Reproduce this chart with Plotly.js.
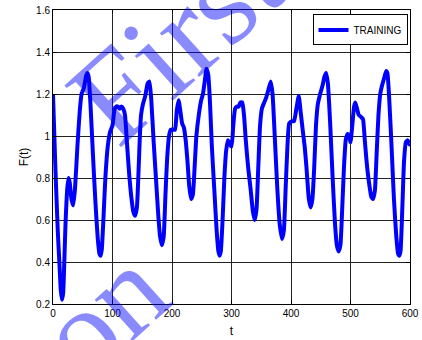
<!DOCTYPE html>
<html>
<head>
<meta charset="utf-8">
<script src="https://cdn.plot.ly/plotly-3.0.1.min.js"></script>
<style>html,body{margin:0;padding:0;background:#fff;}#chart{width:422px;height:340px;}</style>
</head>
<body>
<div id="chart"></div>
<script>
// time samples (t)
const tValues = [0,4,8,11,13,15,17,19,21,24,26,28,31,34,37,41,45,48,52,56,58,60,63,67,71,75,78,80,82,85,88,92,96,100,103,106,109,112,115,118,121,124,128,132,135,138,141,144,146,148,151,155,159,162,165,169,173,177,180,183,186,189,192,195,198,202,205,208,211,214,217,220,223,226,229,232,235,238,241,245,249,252,255,258,261,264,267,271,275,278,280,282,285,288,291,294,297,300,303,306,309,312,315,318,321,324,328,332,336,339,342,345,348,351,355,358,362,366,369,373,377,381,385,388,391,394,397,401,405,409,413,416,420,423,426,430,433,436,439,442,445,449,453,456,459,462,466,470,474,477,480,483,486,489,492,495,498,500,503,506,508,511,514,518,521,524,528,532,535,538,541,544,547,550,553,557,560,562,565,569,573,577,580,582,584,587,590,593,596,599,600];
// F(t) training values
const fValues = [1.20,0.85,0.55,0.38,0.27,0.22,0.25,0.40,0.58,0.75,0.80,0.78,0.70,0.67,0.75,0.95,1.12,1.20,1.23,1.29,1.30,1.28,1.15,0.92,0.70,0.52,0.44,0.43,0.46,0.62,0.80,0.95,1.02,1.05,1.12,1.14,1.14,1.13,1.14,1.13,1.10,0.98,0.82,0.70,0.64,0.62,0.66,0.85,1.00,1.10,1.15,1.19,1.25,1.26,1.18,0.98,0.80,0.62,0.52,0.48,0.52,0.72,0.90,1.00,1.03,1.03,1.03,1.12,1.17,1.12,1.06,1.04,0.98,0.88,0.76,0.70,0.72,0.85,1.00,1.10,1.17,1.20,1.26,1.32,1.29,1.15,0.95,0.75,0.55,0.45,0.43,0.45,0.60,0.80,0.93,0.98,0.96,0.95,1.05,1.13,1.14,1.14,1.16,1.16,1.10,0.98,0.85,0.75,0.64,0.60,0.65,0.85,1.05,1.13,1.16,1.18,1.22,1.26,1.20,0.98,0.75,0.58,0.51,0.55,0.75,0.95,1.06,1.07,1.07,1.13,1.19,1.12,1.02,0.95,0.85,0.70,0.66,0.70,0.85,1.05,1.15,1.20,1.24,1.28,1.30,1.25,1.05,0.80,0.58,0.48,0.45,0.48,0.65,0.85,0.98,1.01,1.00,0.97,1.05,1.14,1.16,1.13,1.10,1.09,1.08,0.98,0.85,0.76,0.71,0.70,0.74,0.92,1.10,1.20,1.24,1.28,1.31,1.30,1.18,0.95,0.70,0.52,0.44,0.43,0.45,0.65,0.88,0.97,0.98,0.96,0.96];
const seriesName = 'TRAINING';
const xTickValues = [0,100,200,300,400,500,600];
const yTickValues = [0.2,0.4,0.6,0.8,1,1.2,1.4,1.6];
const xTitle = 't';
const yTitle = 'F(t)';
const watermarkWords = ['First', 'on'];

const trace = {
  x: tValues, y: fValues, type: 'scatter', mode: 'lines', name: seriesName,
  line: {color: '#0000ff', width: 4, shape: 'spline', smoothing: 0.5}
};

const axisCommon = {
  showline: true, linecolor: '#000', linewidth: 1, mirror: 'ticks',
  ticks: 'inside', ticklen: 4, tickcolor: '#000', tickwidth: 1,
  showgrid: true, gridcolor: '#222', gridwidth: 1, zeroline: false,
  tickfont: {family: 'Liberation Sans, Arial, sans-serif', size: 10, color: '#000'}
};

const wmColor = 'rgba(0,0,255,0.46)';
const layout = {
  width: 422, height: 340,
  margin: {l: 53, r: 12, t: 10, b: 36},
  paper_bgcolor: '#fff', plot_bgcolor: '#fff',
  showlegend: true,
  legend: {x: 0.993, xanchor: 'right', y: 0.985, yanchor: 'top',
    bgcolor: '#fff', bordercolor: '#000', borderwidth: 1,
    font: {family: 'Liberation Sans, Arial, sans-serif', size: 10, color: '#000'}},
  xaxis: Object.assign({}, axisCommon, {range: [0, 600], tickvals: xTickValues,
    title: {text: xTitle, standoff: 8, font: {family: 'Liberation Sans, Arial, sans-serif', size: 12, color: '#000'}}}),
  yaxis: Object.assign({}, axisCommon, {range: [0.2, 1.6], tickvals: yTickValues,
    title: {text: yTitle, standoff: 4, font: {family: 'Liberation Sans, Arial, sans-serif', size: 12, color: '#000'}}}),
  annotations: [
    {xref: 'paper', yref: 'paper', x: (176 - 53) / 357, y: (304 - 40) / 294,
     xanchor: 'center', yanchor: 'middle', text: watermarkWords[0], showarrow: false,
     textangle: -42, font: {family: 'Liberation Serif, Times New Roman, serif', size: 128, color: wmColor}},
    {xref: 'paper', yref: 'paper', x: (102 - 53) / 357, y: (304 - 312) / 294,
     xanchor: 'center', yanchor: 'middle', text: watermarkWords[1], showarrow: false,
     textangle: -42, font: {family: 'Liberation Serif, Times New Roman, serif', size: 122, color: wmColor}}
  ]
};

Plotly.newPlot('chart', [trace], layout, {displayModeBar: false, staticPlot: true});
</script>
</body>
</html>
